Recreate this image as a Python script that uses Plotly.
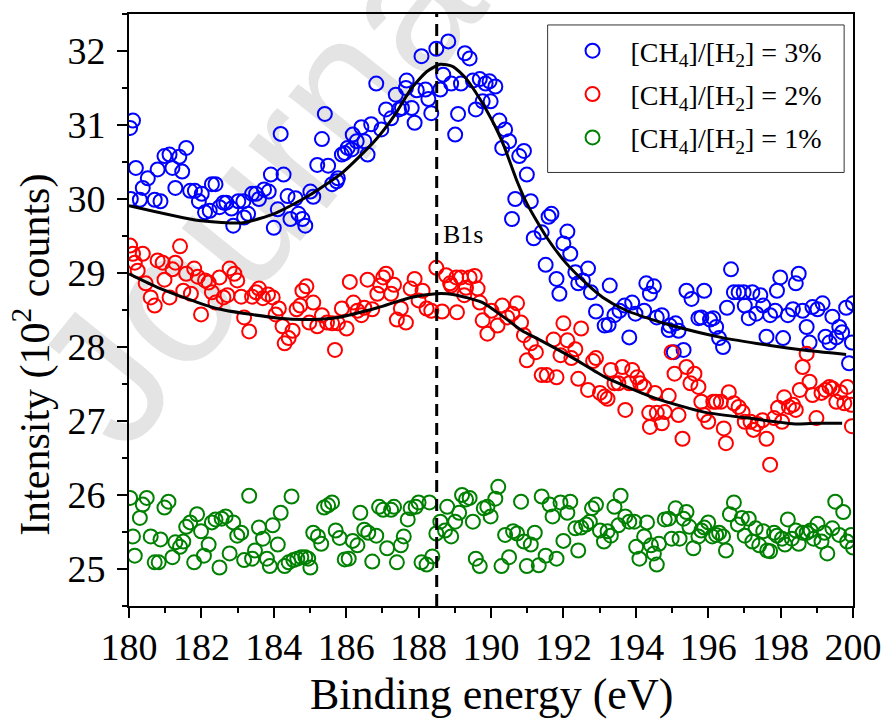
import plotly.graph_objects as go

# ---------------- data ----------------
blue_points = [
    (180.03, 30.96), (180.11, 31.06), (180.19, 30.42), (180.05, 30.00), (180.30, 29.99), (180.38, 30.15),
    (180.52, 30.28), (180.71, 29.99), (180.79, 30.40), (180.87, 29.97), (180.98, 30.58), (181.12, 30.60),
    (181.20, 30.42), (181.28, 30.15), (181.39, 30.57), (181.47, 30.37), (181.58, 30.69), (181.69, 30.11),
    (181.82, 30.11), (181.93, 29.97), (182.01, 30.07), (182.10, 29.82), (182.23, 29.84), (182.29, 30.20),
    (182.39, 30.20), (182.50, 29.89), (182.61, 29.95), (182.69, 29.95), (182.83, 29.87), (182.88, 29.64),
    (183.02, 29.97), (183.16, 29.97), (183.18, 29.75), (183.29, 29.80), (183.40, 30.07), (183.51, 30.07),
    (183.59, 30.00), (183.73, 30.13), (183.86, 30.10), (183.92, 30.33), (184.00, 29.61), (184.11, 29.86),
    (184.19, 30.88), (184.27, 30.33), (184.38, 30.04), (184.46, 29.73), (184.60, 30.01), (184.68, 29.80),
    (184.79, 29.73), (184.87, 29.64), (185.01, 30.10), (185.09, 30.03), (185.20, 30.46), (185.33, 30.81),
    (185.41, 31.15), (185.50, 30.45), (185.61, 30.20), (185.74, 30.24), (185.77, 30.28), (185.88, 30.60),
    (185.96, 30.62), (186.04, 30.69), (186.15, 30.67), (186.18, 30.87), (186.29, 30.78), (186.42, 30.97),
    (186.50, 30.78), (186.59, 30.60), (186.69, 31.01), (186.83, 31.56), (186.97, 30.94), (187.10, 31.21),
    (187.24, 31.09), (187.37, 31.41), (187.46, 31.21), (187.54, 31.23), (187.65, 31.50), (187.67, 31.60),
    (187.81, 31.23), (187.89, 31.03), (187.95, 31.47), (188.08, 31.93), (188.19, 31.48), (188.27, 31.35),
    (188.35, 31.16), (188.49, 32.03), (188.60, 31.48), (188.68, 31.68), (188.82, 32.13), (188.90, 31.56),
    (189.01, 30.87), (189.09, 31.15), (189.17, 31.56), (189.28, 31.97), (189.41, 31.90), (189.50, 31.60),
    (189.58, 31.21), (189.69, 31.62), (189.77, 31.32), (189.85, 31.56), (189.96, 31.59), (189.99, 31.32),
    (190.12, 31.52), (190.23, 31.06), (190.31, 30.69), (190.39, 30.94), (190.50, 30.78), (190.58, 29.73),
    (190.67, 30.00), (190.78, 30.58), (190.91, 30.65), (190.99, 30.33), (191.10, 29.97), (191.18, 29.47),
    (191.40, 29.55), (191.51, 29.11), (191.59, 29.76), (191.67, 29.80), (191.81, 28.92), (191.89, 28.72),
    (192.00, 29.40), (192.11, 29.56), (192.19, 29.26), (192.33, 29.01), (192.41, 28.86), (192.54, 28.90),
    (192.68, 29.06), (192.76, 28.74), (192.90, 28.48), (193.14, 28.29), (193.25, 28.30), (193.28, 28.83),
    (193.41, 28.43), (193.55, 28.49), (193.69, 28.56), (193.82, 28.13), (193.90, 28.60), (193.99, 28.45),
    (194.23, 28.49), (194.29, 28.86), (194.39, 28.72), (194.50, 28.82), (194.58, 28.40), (194.72, 28.43),
    (194.91, 28.23), (194.94, 28.29), (195.05, 27.93), (195.10, 28.32), (195.18, 28.22), (195.32, 27.96),
    (195.40, 28.76), (195.54, 28.65), (195.73, 28.39), (195.81, 28.40), (195.89, 28.76), (196.05, 28.37),
    (196.14, 28.39), (196.22, 28.27), (196.30, 28.12), (196.41, 28.00), (196.52, 28.53), (196.63, 29.05),
    (196.71, 28.74), (196.84, 28.74), (196.98, 28.74), (197.01, 28.56), (197.12, 28.39), (197.22, 28.74),
    (197.33, 28.45), (197.44, 28.70), (197.52, 28.56), (197.61, 28.14), (197.71, 28.43), (197.85, 28.49),
    (197.90, 28.76), (197.99, 28.94), (198.07, 28.12), (198.20, 28.43), (198.34, 28.51), (198.42, 28.86),
    (198.50, 28.99), (198.61, 28.49), (198.72, 28.27), (198.80, 28.06), (198.88, 28.54), (199.02, 28.51),
    (199.16, 28.59), (199.24, 28.14), (199.35, 28.06), (199.43, 28.41), (199.54, 28.13), (199.62, 28.27),
    (199.70, 28.20), (199.81, 28.53), (199.89, 27.78), (199.97, 28.06), (200.00, 28.59),
]

red_points = [
    (180.03, 29.37), (180.11, 29.26), (180.16, 29.14), (180.24, 29.03), (180.38, 29.26), (180.46, 28.86),
    (180.60, 28.67), (180.71, 28.56), (180.79, 29.17), (180.93, 29.14), (180.98, 28.91), (181.12, 28.67),
    (181.20, 29.05), (181.28, 29.14), (181.41, 29.36), (181.50, 28.76), (181.58, 28.99), (181.71, 28.72),
    (181.80, 29.06), (181.90, 28.95), (181.99, 28.44), (182.10, 28.90), (182.20, 28.87), (182.29, 28.74),
    (182.39, 28.60), (182.50, 28.94), (182.61, 28.67), (182.72, 28.70), (182.78, 29.06), (182.91, 28.99),
    (182.99, 28.90), (183.10, 28.68), (183.18, 28.40), (183.32, 28.21), (183.40, 28.68), (183.51, 28.74),
    (183.59, 28.79), (183.70, 28.66), (183.84, 28.71), (183.97, 28.67), (184.05, 28.44), (184.14, 28.52),
    (184.24, 28.28), (184.30, 28.05), (184.41, 28.12), (184.52, 28.22), (184.63, 28.51), (184.73, 28.56),
    (184.79, 28.76), (184.90, 28.82), (184.98, 28.33), (185.09, 28.60), (185.20, 28.28), (185.33, 28.43),
    (185.47, 28.33), (185.61, 28.32), (185.69, 27.96), (185.77, 28.32), (185.88, 28.52), (186.01, 28.25),
    (186.10, 28.88), (186.20, 28.60), (186.31, 28.49), (186.42, 28.43), (186.50, 28.53), (186.59, 28.91),
    (186.72, 28.51), (186.86, 28.72), (186.94, 28.83), (187.02, 28.94), (187.10, 28.99), (187.24, 28.72),
    (187.32, 28.84), (187.40, 28.37), (187.51, 28.52), (187.65, 28.33), (187.78, 28.79), (187.89, 28.92),
    (188.00, 28.63), (188.11, 28.76), (188.22, 28.52), (188.35, 28.49), (188.49, 29.07), (188.65, 28.48),
    (188.76, 28.97), (188.87, 28.86), (188.90, 28.83), (189.04, 28.94), (189.06, 28.47), (189.17, 28.94),
    (189.26, 28.70), (189.31, 28.80), (189.41, 28.94), (189.55, 28.96), (189.63, 28.79), (189.69, 28.60),
    (189.77, 28.36), (189.90, 28.18), (190.01, 28.49), (190.18, 28.29), (190.31, 28.56), (190.45, 28.40),
    (190.59, 28.45), (190.72, 28.59), (190.83, 28.33), (190.91, 28.16), (190.99, 27.82), (191.10, 28.05),
    (191.24, 27.93), (191.40, 27.62), (191.54, 27.62), (191.73, 28.10), (191.81, 27.59), (191.92, 27.89),
    (192.00, 28.32), (192.11, 28.09), (192.22, 27.85), (192.33, 27.97), (192.41, 27.57), (192.49, 28.25),
    (192.68, 27.42), (192.82, 27.81), (192.90, 27.85), (193.01, 27.38), (193.14, 27.33), (193.22, 27.30),
    (193.31, 27.69), (193.41, 27.51), (193.52, 27.51), (193.63, 27.73), (193.71, 27.15), (193.82, 27.51),
    (193.90, 27.69), (194.04, 27.59), (194.12, 27.51), (194.23, 27.46), (194.37, 27.11), (194.39, 26.92),
    (194.53, 27.38), (194.58, 27.11), (194.72, 26.97), (194.80, 27.12), (194.91, 27.34), (194.99, 27.93),
    (195.07, 27.64), (195.18, 27.08), (195.29, 26.76), (195.40, 27.73), (195.51, 27.51), (195.62, 27.64),
    (195.73, 27.46), (195.81, 27.26), (195.89, 27.08), (196.00, 26.99), (196.14, 27.26), (196.22, 27.26),
    (196.35, 27.26), (196.43, 26.90), (196.49, 26.70), (196.57, 27.39), (196.71, 27.24), (196.84, 27.19),
    (196.95, 27.12), (197.01, 26.99), (197.17, 26.99), (197.25, 26.88), (197.36, 26.96), (197.50, 27.01),
    (197.61, 26.76), (197.71, 26.41), (197.82, 27.04), (197.93, 27.18), (198.04, 26.99), (198.10, 27.32),
    (198.23, 27.19), (198.34, 27.22), (198.42, 27.15), (198.53, 27.42), (198.61, 27.73), (198.72, 27.91),
    (198.80, 27.53), (198.88, 27.35), (198.99, 27.04), (199.13, 27.38), (199.24, 27.42), (199.35, 27.46),
    (199.43, 27.44), (199.54, 27.26), (199.65, 27.39), (199.76, 27.24), (199.84, 27.46), (199.95, 27.22),
    (199.97, 26.93),
]

green_points = [
    (180.03, 25.96), (180.11, 25.44), (180.16, 25.18), (180.30, 25.69), (180.38, 25.87), (180.49, 25.96),
    (180.60, 25.44), (180.71, 25.09), (180.82, 25.09), (180.87, 25.40), (180.98, 25.83), (181.09, 25.91),
    (181.20, 25.16), (181.28, 25.36), (181.41, 25.30), (181.50, 25.37), (181.58, 25.57), (181.69, 25.63),
    (181.80, 25.09), (181.88, 25.74), (181.99, 25.51), (182.07, 25.18), (182.20, 25.33), (182.29, 25.63),
    (182.39, 25.67), (182.50, 25.02), (182.56, 25.68), (182.67, 25.71), (182.78, 25.21), (182.88, 25.63),
    (182.99, 25.45), (183.10, 25.49), (183.18, 25.12), (183.32, 25.99), (183.40, 25.14), (183.48, 25.25),
    (183.59, 25.56), (183.70, 25.41), (183.81, 25.14), (183.89, 25.04), (183.97, 25.59), (184.11, 25.33),
    (184.19, 25.76), (184.30, 25.04), (184.41, 25.09), (184.49, 25.98), (184.54, 25.12), (184.65, 25.14),
    (184.76, 25.16), (184.87, 25.16), (184.95, 25.14), (185.01, 25.02), (185.09, 25.49), (185.22, 25.44),
    (185.31, 25.34), (185.39, 25.83), (185.50, 25.86), (185.61, 25.90), (185.71, 25.52), (185.82, 25.42),
    (185.96, 25.13), (186.07, 25.14), (186.18, 25.38), (186.31, 25.32), (186.39, 25.76), (186.50, 25.53),
    (186.61, 25.49), (186.72, 25.10), (186.83, 25.45), (186.91, 25.84), (187.02, 25.80), (187.13, 25.28),
    (187.24, 25.80), (187.32, 25.84), (187.40, 25.09), (187.51, 25.32), (187.59, 25.44), (187.70, 25.67),
    (187.78, 25.82), (187.92, 25.84), (188.00, 25.90), (188.08, 25.09), (188.22, 25.06), (188.30, 25.90),
    (188.38, 25.17), (188.49, 25.48), (188.60, 25.64), (188.73, 25.52), (188.79, 25.84), (188.90, 25.44),
    (189.01, 25.64), (189.12, 25.76), (189.20, 26.00), (189.31, 25.94), (189.41, 25.96), (189.50, 25.64),
    (189.58, 25.14), (189.69, 25.04), (189.80, 25.82), (189.90, 25.84), (189.99, 25.71), (190.12, 25.95),
    (190.20, 26.11), (190.29, 25.04), (190.39, 25.46), (190.50, 25.16), (190.61, 25.51), (190.72, 25.48),
    (190.83, 25.91), (190.91, 25.37), (190.99, 25.04), (191.10, 25.33), (191.21, 25.49), (191.32, 25.05),
    (191.40, 25.98), (191.51, 25.18), (191.62, 25.87), (191.70, 25.71), (191.81, 25.14), (191.92, 25.90),
    (192.00, 25.38), (192.11, 25.76), (192.19, 25.91), (192.33, 25.55), (192.41, 25.25), (192.49, 25.56),
    (192.63, 25.60), (192.73, 25.64), (192.79, 25.82), (192.90, 25.87), (193.01, 25.52), (193.12, 25.37),
    (193.22, 25.51), (193.31, 25.45), (193.41, 25.84), (193.52, 25.59), (193.58, 25.99), (193.71, 25.71),
    (193.82, 25.64), (193.96, 25.64), (194.01, 25.30), (194.10, 25.14), (194.23, 25.44), (194.31, 25.63),
    (194.42, 25.32), (194.50, 25.21), (194.58, 25.06), (194.64, 25.34), (194.80, 25.67), (194.91, 25.68),
    (194.99, 25.41), (195.10, 25.82), (195.21, 25.41), (195.32, 25.68), (195.40, 25.77), (195.48, 25.57),
    (195.59, 25.28), (195.73, 25.44), (195.81, 25.52), (195.89, 25.56), (196.00, 25.63), (196.11, 25.44),
    (196.22, 25.46), (196.30, 25.49), (196.41, 25.44), (196.49, 25.25), (196.60, 25.74), (196.71, 25.90),
    (196.82, 25.60), (196.93, 25.69), (197.01, 25.45), (197.12, 25.68), (197.22, 25.37), (197.31, 25.55),
    (197.41, 25.32), (197.52, 25.51), (197.63, 25.25), (197.71, 25.24), (197.82, 25.49), (197.90, 25.45),
    (198.04, 25.41), (198.12, 25.33), (198.20, 25.67), (198.31, 25.41), (198.42, 25.52), (198.50, 25.34),
    (198.61, 25.49), (198.72, 25.49), (198.83, 25.52), (198.91, 25.41), (199.02, 25.61), (199.13, 25.37),
    (199.21, 25.49), (199.29, 25.21), (199.43, 25.55), (199.51, 25.91), (199.62, 25.46), (199.73, 25.77),
    (199.84, 25.37), (199.95, 25.46), (200.00, 25.29),
]

fit_blue_x = [180.0, 181.93, 183.16, 184.05, 184.95, 185.88, 186.78, 187.32, 187.78, 188.22, 188.60,
              188.95, 189.31, 189.82, 190.29, 190.72, 191.00, 191.54, 192.08, 192.63, 193.09, 193.71,
              194.45, 194.99, 196.35, 197.71, 198.61, 199.81]
fit_blue_y = [29.91, 29.71, 29.68, 29.81, 30.04, 30.35, 30.78, 31.12, 31.48, 31.72, 31.82,
              31.79, 31.63, 31.25, 30.80, 30.24, 29.93, 29.48, 29.13, 28.86, 28.67, 28.50,
              28.37, 28.29, 28.13, 28.02, 27.96, 27.90]

fit_red_x = [180.0, 180.87, 182.42, 184.14, 184.87, 185.77, 186.86, 187.78, 188.49, 188.95, 189.77,
             190.39, 190.86, 191.37, 192.27, 193.17, 194.53, 195.89, 197.25, 198.45, 198.99, 199.70]
fit_red_y = [28.99, 28.79, 28.52, 28.39, 28.37, 28.40, 28.53, 28.67, 28.72, 28.71, 28.60,
             28.39, 28.22, 28.09, 27.85, 27.59, 27.31, 27.12, 27.03, 26.96, 26.97, 26.97]

series_names = ["[CH<sub>4</sub>]/[H<sub>2</sub>] = 3%",
                "[CH<sub>4</sub>]/[H<sub>2</sub>] = 2%",
                "[CH<sub>4</sub>]/[H<sub>2</sub>] = 1%"]
series_colors = ["#0000ff", "#ff0000", "#008000"]
peak_position = 188.5
peak_label = "B1s"
x_ticks = [180, 182, 184, 186, 188, 190, 192, 194, 196, 198, 200]
y_ticks = [25, 26, 27, 28, 29, 30, 31, 32]
x_title = "Binding energy (eV)"
y_title = "Intensity (10<sup>2</sup> counts)"

SERIF = "Liberation Serif"

# plot-area geometry in pixels (used to place paper-referenced items)
W, H = 894, 720
ML, MR, MT, MB = 129, 30, 12, 114
PW, PH = W - ML - MR, H - MT - MB


def px_x(px):
    return (px - ML) / PW


def px_y(py):
    return (H - MB - py) / PH


fig = go.Figure()

for i, (pts, name, col) in enumerate(zip([blue_points, red_points, green_points], series_names, series_colors)):
    fig.add_trace(go.Scatter(
        x=[p[0] for p in pts], y=[p[1] for p in pts], mode="markers", name=name,
        legendgroup=f"g{i}",
        marker=dict(symbol="circle-open", size=14, color=col, line=dict(width=2, color=col)),
    ))

for fx, fy in [(fit_blue_x, fit_blue_y), (fit_red_x, fit_red_y)]:
    fig.add_trace(go.Scatter(x=fx, y=fy, mode="lines", showlegend=False,
                             line=dict(color="black", width=3, shape="spline", smoothing=0.6)))

# dashed vertical marker line
fig.add_shape(type="line", xref="x", yref="paper", x0=peak_position, x1=peak_position, y0=0, y1=1,
              line=dict(color="black", width=3, dash="12px,7px"))
fig.add_annotation(x=peak_position, y=29.52, xref="x", yref="y", text=peak_label, showarrow=False,
                   xanchor="left", yanchor="middle", xshift=4, font=dict(family=SERIF, size=26, color="black"))

# faint watermark
fig.add_shape(type="line", xref="paper", yref="paper", x0=0.40, y0=0.795, x1=0.914, y1=1.579,
              layer="below", line=dict(color="rgba(0,0,0,0)", width=0),
              label=dict(text="Journal Pre-proof", textangle=-51, textposition="middle",
                         font=dict(family="Liberation Sans", size=190, color="#e4e4e4")))

# legend frame (drawn as a shape so the entries can sit inside it like the reference)
fig.add_shape(type="rect", xref="paper", yref="paper",
              x0=px_x(554), x1=px_x(855), y0=px_y(171), y1=px_y(23),
              layer="above", fillcolor="white", line=dict(color="#333333", width=1))

# axis titles as annotations (positioned as in the reference)
fig.add_annotation(x=0.5, y=-0.149, xref="paper", yref="paper", text=x_title, showarrow=False,
                   xanchor="center", yanchor="middle", font=dict(family=SERIF, size=44, color="black"))
fig.add_annotation(x=px_x(31), y=0.425, xref="paper", yref="paper", text=y_title, showarrow=False,
                   textangle=-90, xanchor="center", yanchor="middle",
                   font=dict(family=SERIF, size=42, color="black"))

fig.update_layout(
    width=W, height=H,
    margin=dict(l=ML, r=MR, t=MT, b=MB),
    paper_bgcolor="white", plot_bgcolor="white",
    font=dict(family=SERIF, color="black"),
    showlegend=True,
    legend=dict(x=px_x(561), y=px_y(24), xanchor="left", yanchor="top",
                bgcolor="rgba(0,0,0,0)", borderwidth=0, tracegroupgap=4,
                font=dict(family=SERIF, size=28, color="black"), itemwidth=66),
)

fig.update_xaxes(
    range=[180, 200], tickvals=x_ticks, ticks="outside", ticklen=10, tickwidth=2, tickcolor="black",
    showline=True, linewidth=2, linecolor="black", mirror=True, showgrid=False, zeroline=False,
    tickfont=dict(family=SERIF, size=38, color="black"), ticklabelstandoff=-4,
    minor=dict(ticks="outside", ticklen=5, tickwidth=2, tickcolor="black", dtick=1, showgrid=False),
)
fig.update_yaxes(
    range=[24.5, 32.5], tickvals=y_ticks, ticks="outside", ticklen=10, tickwidth=2, tickcolor="black",
    showline=True, linewidth=2, linecolor="black", mirror=True, showgrid=False, zeroline=False,
    tickfont=dict(family=SERIF, size=38, color="black"), ticklabelstandoff=4,
    minor=dict(ticks="outside", ticklen=5, tickwidth=2, tickcolor="black", dtick=0.5, showgrid=False),
)

fig.write_html("out.html")
